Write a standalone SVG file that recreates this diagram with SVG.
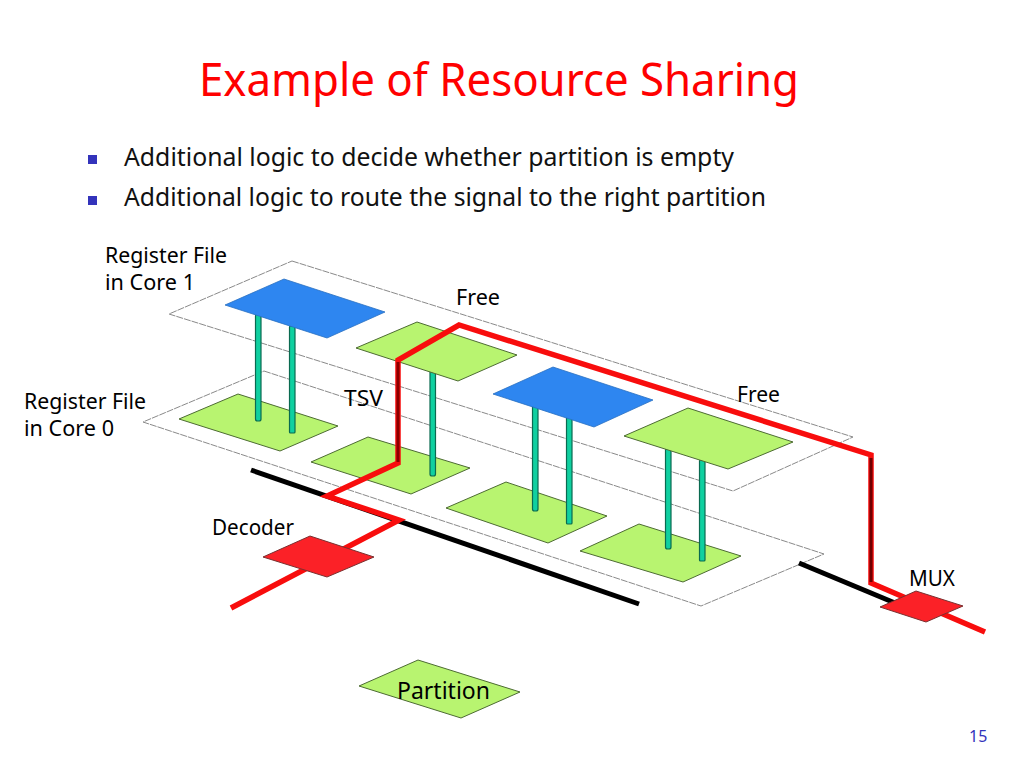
<svg xmlns="http://www.w3.org/2000/svg" width="1024" height="768" viewBox="0 0 1024 768">
<style>
text{font-family:"Noto Sans","DejaVu Sans",sans-serif;fill:#000}
.t{font-size:21.5px}
.b{font-size:24.5px;fill:#111}
.pl{fill:#fff;stroke:#8a8a8a;stroke-width:1;stroke-dasharray:7 1}
.g{fill:#b8f470;stroke:#4d6b33;stroke-width:1}
.bl{fill:#2e86f0;stroke:#2a70c0;stroke-width:.8}
.r{fill:#fb2127;stroke:#7a3030;stroke-width:1}
.tsv{fill:#0fd0a0;stroke:#0a6a50;stroke-width:1.2}
.wr{fill:none;stroke:#f80d0d;stroke-width:5.5}
.wk{fill:none;stroke:#000;stroke-width:5}
</style>
<rect width="1024" height="768" fill="#fff"/>
<text id="title" x="199" y="96" font-size="46" style="fill:#ff0000" textLength="600" lengthAdjust="spacingAndGlyphs">Example of Resource Sharing</text>
<g id="bullets">
<rect x="88" y="155" width="9" height="9" fill="#3333bb"/>
<text class="b" x="124" y="166" textLength="610" lengthAdjust="spacingAndGlyphs">Additional logic to decide whether partition is empty</text>
<rect x="88" y="196" width="9" height="9" fill="#3333bb"/>
<text class="b" x="124" y="206" textLength="642" lengthAdjust="spacingAndGlyphs">Additional logic to route the signal to the right partition</text>
</g>
<g id="plane-core0"><polygon class="pl" points="264,371 824,554 701,606 143,422"/></g>
<g id="plane-core1"><polygon class="pl" points="292,261 853,437 733,491 169,314" style="fill:none"/></g>
<g id="partitions-core0">
<polygon class="g" points="179,419 238,394 338,426 280,451"/>
<polygon class="g" points="311,462 368,437 470,468 411,494"/>
<polygon class="g" points="446,508 506,482 607,516 548,543"/>
<polygon class="g" points="580,551 639,524 741,556 683,582"/>
</g>
<g id="tsvs">
<rect class="tsv" x="255.500" y="314" width="5.500" height="107" rx="2"/>
<rect class="tsv" x="289.500" y="326" width="5.500" height="107" rx="1"/>
<rect class="tsv" x="430" y="370" width="5.500" height="106" rx="2"/>
<rect class="tsv" x="532.500" y="405" width="5.500" height="106" rx="2"/>
<rect class="tsv" x="566.500" y="415" width="5.500" height="109" rx="1"/>
<rect class="tsv" x="665.500" y="448" width="5.500" height="101" rx="2"/>
<rect class="tsv" x="699.500" y="460" width="5.500" height="101" rx="1"/>
</g>
<g id="partitions-core1">
<polygon class="bl" points="225,305 284,279 385,312 327,338"/>
<polygon class="g" points="356,348 417,322 517,355 458,381"/>
<polygon class="bl" points="493,394 553,367 653,400 594,427"/>
<polygon class="g" points="624,436 688,408 793,442 728,469"/>
</g>
<g id="connectors">
<polyline class="wk" points="251,470 639,604"/>
<polyline class="wk" points="799,563 895,603"/>
<polyline class="wr" points="231,608 399,520 327,496 398,463 398,360 459,325 871,455 871,583 985,632"/>
<line x1="398" y1="362" x2="398" y2="462" stroke="#8a0000" stroke-width="3"/>
<line x1="871" y1="458" x2="871" y2="582" stroke="#700000" stroke-width="3"/>
</g>
<g id="decoder"><polygon class="r" points="263,557 310,536 374,557 327,577"/></g>
<g id="mux"><polygon class="r" points="880,607 916,591 963,606 926,622"/></g>
<g id="legend"><polygon class="g" points="359,686 418,660 520,692 461,718"/>
<text x="397" y="699" font-size="24" textLength="93" lengthAdjust="spacingAndGlyphs">Partition</text></g>
<g id="labels">
<text class="t" x="105" y="263" textLength="122" lengthAdjust="spacingAndGlyphs">Register File</text>
<text class="t" x="105" y="290" textLength="90" lengthAdjust="spacingAndGlyphs">in Core 1</text>
<text class="t" x="24" y="409" textLength="122" lengthAdjust="spacingAndGlyphs">Register File</text>
<text class="t" x="24" y="436" textLength="90" lengthAdjust="spacingAndGlyphs">in Core 0</text>
<text class="t" x="456" y="305" textLength="44" lengthAdjust="spacingAndGlyphs">Free</text>
<text class="t" x="737" y="402" textLength="43" lengthAdjust="spacingAndGlyphs">Free</text>
<text class="t" x="344" y="406" textLength="39" lengthAdjust="spacingAndGlyphs">TSV</text>
<text class="t" x="212" y="535" textLength="82" lengthAdjust="spacingAndGlyphs">Decoder</text>
<text class="t" x="909" y="586" textLength="46" lengthAdjust="spacingAndGlyphs">MUX</text>
</g>
<text id="page" x="969" y="742" font-size="16" style="fill:#3333bb">15</text>
</svg>
